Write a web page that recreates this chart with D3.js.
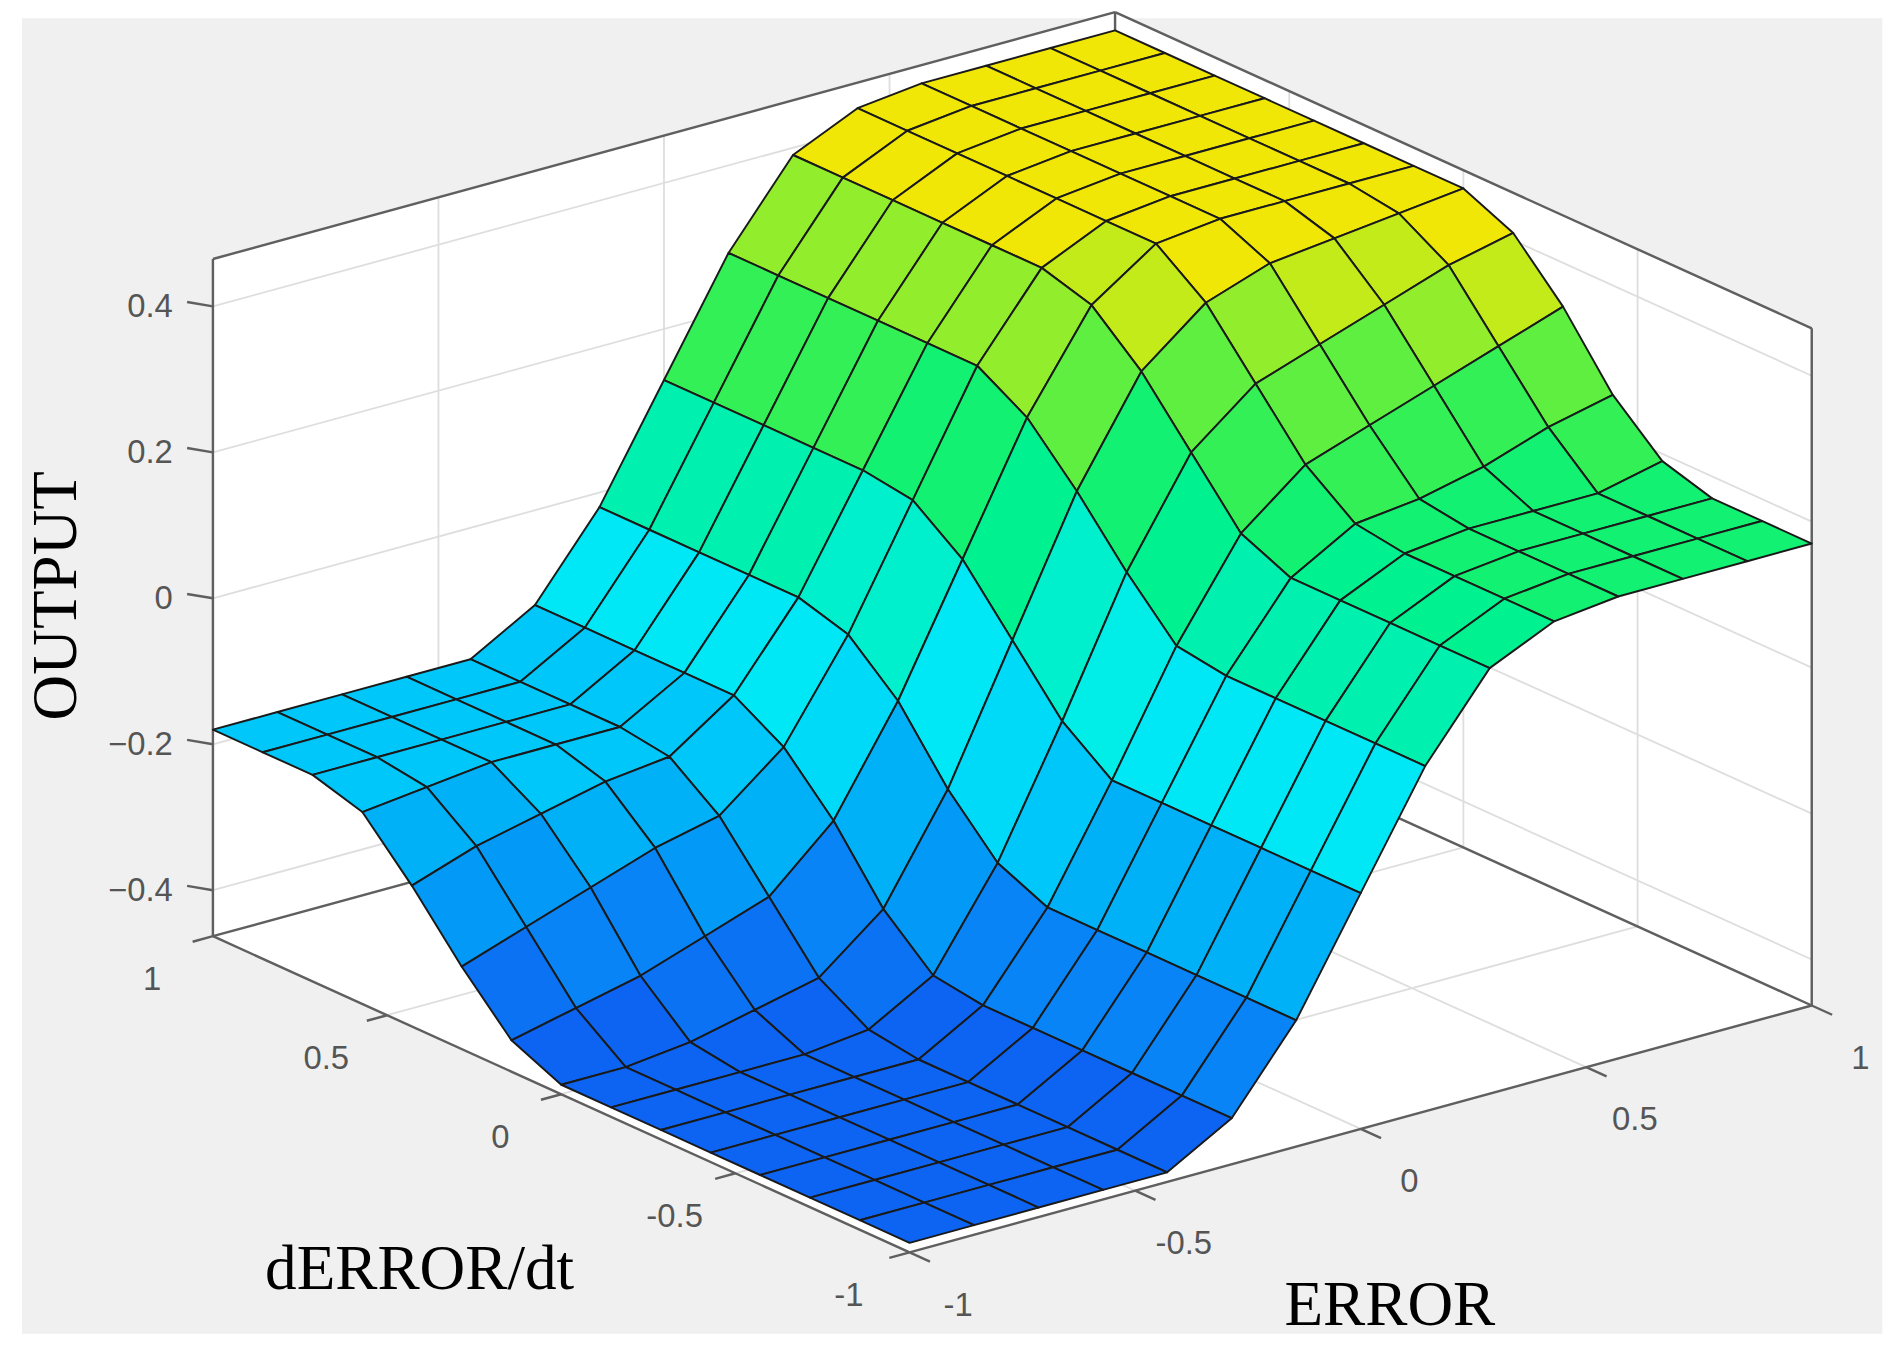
<!DOCTYPE html>
<html>
<head>
<meta charset="utf-8">
<script src="https://cdn.jsdelivr.net/npm/d3@7"></script>
<style>
  html, body { margin: 0; padding: 0; background: #fff; }
  svg { display: block; }
</style>
</head>
<body>
<svg id="chart" width="1897" height="1352" viewBox="0 0 1560 1112"></svg>
<script>
// grid of ERROR (x) and dERROR/dt (y), 15 points each
const errVals = [-1, -0.857, -0.714, -0.571, -0.429, -0.286, -0.143, 0, 0.143, 0.286, 0.429, 0.571, 0.714, 0.857, 1];
const derrVals = [-1, -0.857, -0.714, -0.571, -0.429, -0.286, -0.143, 0, 0.143, 0.286, 0.429, 0.571, 0.714, 0.857, 1];

// OUTPUT, one row per dERROR/dt value, columns follow errVals
const outRows = [
  [-0.45,-0.45,-0.45,-0.45,-0.45,-0.40,-0.29,-0.14,0.01,0.12,0.16,0.17,0.17,0.17,0.17],
  [-0.45,-0.45,-0.45,-0.45,-0.45,-0.40,-0.29,-0.14,0.01,0.12,0.16,0.17,0.17,0.17,0.17],
  [-0.45,-0.45,-0.45,-0.45,-0.45,-0.40,-0.29,-0.14,0.01,0.12,0.16,0.17,0.17,0.17,0.17],
  [-0.45,-0.45,-0.45,-0.45,-0.45,-0.40,-0.29,-0.14,0.01,0.12,0.16,0.17,0.17,0.17,0.19],
  [-0.45,-0.45,-0.45,-0.45,-0.45,-0.40,-0.29,-0.14,0.01,0.12,0.17,0.18,0.20,0.23,0.25],
  [-0.45,-0.45,-0.45,-0.45,-0.45,-0.40,-0.29,-0.14,0.02,0.15,0.22,0.25,0.28,0.31,0.34],
  [-0.45,-0.45,-0.45,-0.45,-0.44,-0.39,-0.26,-0.09,0.09,0.23,0.30,0.33,0.36,0.39,0.41],
  [-0.45,-0.45,-0.44,-0.42,-0.40,-0.33,-0.19,-0.01,0.17,0.31,0.38,0.41,0.42,0.43,0.44],
  [-0.42,-0.40,-0.38,-0.35,-0.32,-0.24,-0.10,0.07,0.24,0.37,0.43,0.44,0.44,0.44,0.44],
  [-0.35,-0.32,-0.29,-0.26,-0.24,-0.17,-0.04,0.12,0.28,0.39,0.43,0.44,0.44,0.44,0.44],
  [-0.27,-0.24,-0.22,-0.20,-0.19,-0.13,-0.02,0.13,0.28,0.39,0.43,0.44,0.44,0.44,0.44],
  [-0.20,-0.19,-0.18,-0.18,-0.18,-0.13,-0.02,0.13,0.28,0.39,0.43,0.44,0.44,0.44,0.44],
  [-0.18,-0.18,-0.18,-0.18,-0.18,-0.13,-0.02,0.13,0.28,0.39,0.43,0.44,0.44,0.44,0.44],
  [-0.18,-0.18,-0.18,-0.18,-0.18,-0.13,-0.02,0.13,0.28,0.39,0.43,0.44,0.44,0.44,0.44],
  [-0.18,-0.18,-0.18,-0.18,-0.18,-0.13,-0.02,0.13,0.28,0.39,0.43,0.44,0.44,0.44,0.44]
];

const zTicks = [-0.4, -0.2, 0, 0.2, 0.4];
const zTickLabels = ['\u22120.4', '\u22120.2', '0', '0.2', '0.4'];
const xyTicks = [-1, -0.5, 0, 0.5, 1];
const xyTickLabels = ['-1', '-0.5', '0', '0.5', '1'];

const svg = d3.select('#chart');

// floor corners of the box: L = (err -1, derr 1), F = (-1,-1), R = (1,-1)
const L = [175, 770], F = [748, 1030], R = [1490, 827];
const xS = d3.scaleLinear().domain([-1, 1]).range([0, 1]);
const yS = d3.scaleLinear().domain([-1, 1]).range([0, 1]);
const zS = d3.scaleLinear().domain([-0.463, 0.465]).range([0, 557]);

function proj(x, y, z) {
  const u = xS(x), v = yS(y);
  return [
    F[0] + u * (R[0] - F[0]) + v * (L[0] - F[0]),
    F[1] + u * (R[1] - F[1]) + v * (L[1] - F[1]) - zS(z)
  ];
}
const zMin = zS.domain()[0], zMax = zS.domain()[1];

svg.append('rect').attr('x', 18).attr('y', 15).attr('width', 1530).attr('height', 1082).attr('fill', '#f0f0f0');

const line = d3.line();
const poly = pts => line(pts) + 'Z';

// back walls and floor
svg.append('path').attr('d', poly([proj(-1,1,zMin), proj(1,1,zMin), proj(1,1,zMax), proj(-1,1,zMax)])).attr('fill', '#fff');
svg.append('path').attr('d', poly([proj(1,1,zMin), proj(1,-1,zMin), proj(1,-1,zMax), proj(1,1,zMax)])).attr('fill', '#fff');
svg.append('path').attr('d', poly([proj(-1,-1,zMin), proj(1,-1,zMin), proj(1,1,zMin), proj(-1,1,zMin)])).attr('fill', '#fff');

// grid lines
const grid = svg.append('g').attr('stroke', '#dedede').attr('stroke-width', 1.5).attr('fill', 'none');
const seg = (a, b) => grid.append('path').attr('d', line([a, b]));
zTicks.forEach(z => {
  seg(proj(-1,1,z), proj(1,1,z));
  seg(proj(1,1,z), proj(1,-1,z));
});
xyTicks.slice(1, 4).forEach(t => {
  seg(proj(t,1,zMin), proj(t,1,zMax));
  seg(proj(1,t,zMin), proj(1,t,zMax));
  seg(proj(t,-1,zMin), proj(t,1,zMin));
  seg(proj(-1,t,zMin), proj(1,t,zMin));
});

// box edges
const box = svg.append('g').attr('stroke', '#5f5f5f').attr('stroke-width', 2).attr('fill', 'none');
const edge = (a, b) => box.append('path').attr('d', line([a, b]));
edge(proj(-1,1,zMin), proj(-1,1,zMax));
edge(proj(1,-1,zMin), proj(1,-1,zMax));
edge(proj(1,1,zMin), proj(1,1,zMax));
edge(proj(-1,1,zMax), proj(1,1,zMax));
edge(proj(1,1,zMax), proj(1,-1,zMax));
edge(proj(-1,1,zMin), proj(1,1,zMin));
edge(proj(1,1,zMin), proj(1,-1,zMin));
edge(proj(-1,1,zMin), proj(-1,-1,zMin));
edge(proj(-1,-1,zMin), proj(1,-1,zMin));

// ticks
const tickLen = 0.045;
zTicks.forEach(z => edge(proj(-1,1,z), proj(-1 - tickLen * 0.5, 1 + tickLen, z)));
xyTicks.forEach(t => {
  edge(proj(-1,t,zMin), proj(-1 - tickLen, t, zMin));
  edge(proj(t,-1,zMin), proj(t, -1 - tickLen * 1.3, zMin));
});

// surface
const colorLin = d3.scaleLinear()
  .domain([-0.45, -0.35, -0.25, -0.15, -0.05, 0.05, 0.15, 0.25, 0.35, 0.45])
  .range(['#0d5ff2', '#0a7cf5', '#00a8f8', '#00d4fa', '#00eef4', '#00f0c0', '#00f282', '#40f04c', '#a4ee26', '#ffe600']);
const levels = 18;
const colorQ = d3.scaleQuantize().domain([-0.46, 0.46])
  .range(d3.range(levels).map(k => colorLin(-0.46 + (k + 0.5) * 0.92 / levels)));

const cells = [];
for (let j = 0; j < derrVals.length - 1; j++) {
  for (let i = 0; i < errVals.length - 1; i++) {
    const c = [[i, j], [i + 1, j], [i + 1, j + 1], [i, j + 1]];
    const zs = c.map(([a, b]) => outRows[b][a]);
    const pts = c.map(([a, b]) => proj(errVals[a], derrVals[b], outRows[b][a]));
    const depth = proj((errVals[i] + errVals[i + 1]) / 2, (derrVals[j] + derrVals[j + 1]) / 2, zMin)[1];
    cells.push({ pts, z: d3.mean(zs), depth });
  }
}
cells.sort((a, b) => a.depth - b.depth);

svg.append('g').attr('class', 'surface')
  .selectAll('path')
  .data(cells)
  .enter()
  .append('path')
  .attr('d', d => poly(d.pts))
  .attr('fill', d => colorQ(d.z))
  .attr('stroke', '#1a1a1a')
  .attr('stroke-width', 1.6)
  .attr('stroke-linejoin', 'round');

// tick labels
const lab = svg.append('g').attr('font-family', 'Liberation Sans, Arial, sans-serif')
  .attr('font-size', 27).attr('fill', '#555');
zTicks.forEach((z, k) => {
  const p = proj(-1, 1, z);
  lab.append('text').attr('x', p[0] - 33).attr('y', p[1] + 9).attr('text-anchor', 'end').text(zTickLabels[k]);
});
xyTicks.forEach((t, k) => {
  const p = proj(-1, t, zMin);
  lab.append('text').attr('x', p[0] - 50).attr('y', p[1] + 44).attr('text-anchor', 'middle').text(xyTickLabels[k]);
  const q = proj(t, -1, zMin);
  lab.append('text').attr('x', q[0] + 40).attr('y', q[1] + 52).attr('text-anchor', 'middle').text(xyTickLabels[k]);
});

// axis titles
const ttl = svg.append('g').attr('font-family', 'Liberation Serif, Times New Roman, serif')
  .attr('font-size', 52).attr('fill', '#000');
ttl.append('text').attr('transform', 'translate(62,490) rotate(-90)').attr('text-anchor', 'middle').text('OUTPUT');
ttl.append('text').attr('x', 345).attr('y', 1060).attr('text-anchor', 'middle').text('dERROR/dt');
ttl.append('text').attr('x', 1143).attr('y', 1090).attr('text-anchor', 'middle').text('ERROR');
</script>
</body>
</html>
